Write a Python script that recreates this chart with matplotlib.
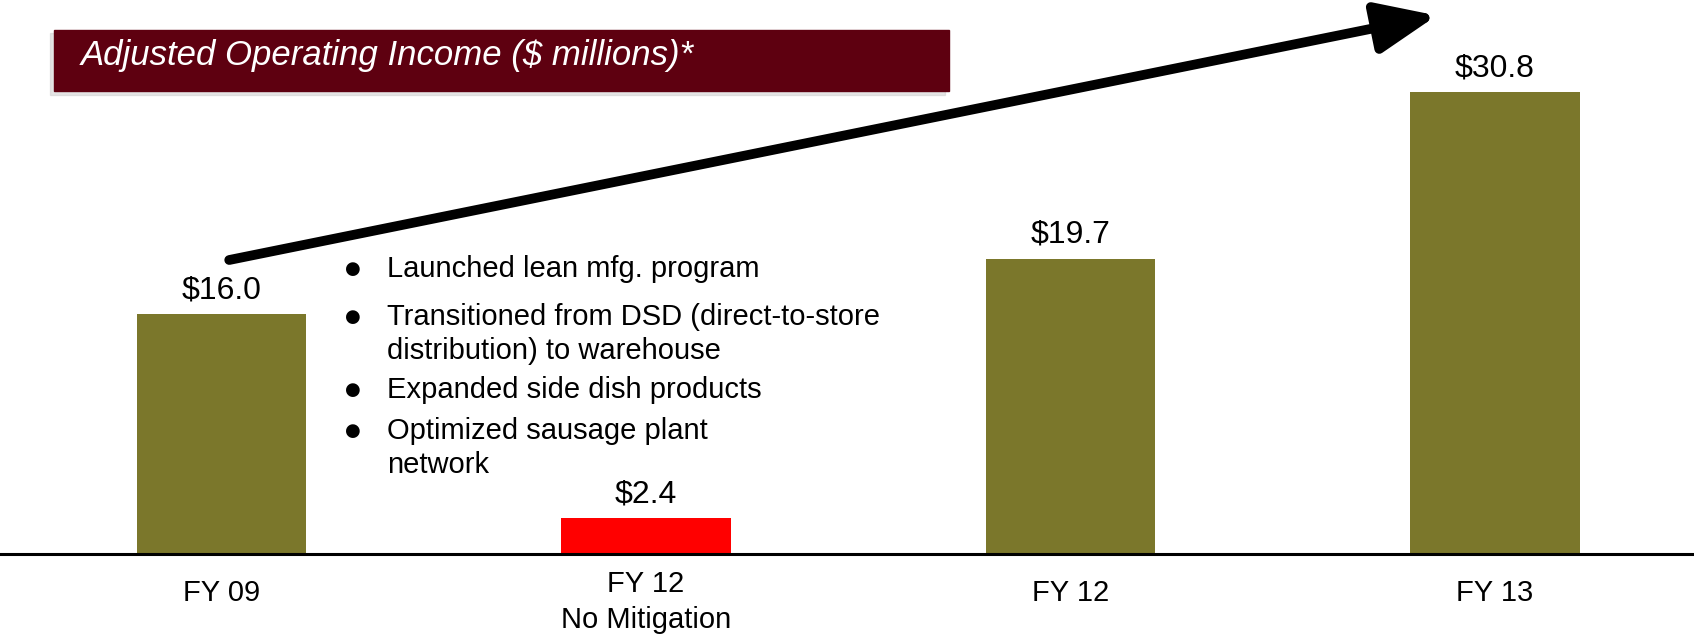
import matplotlib.pyplot as plt
from matplotlib.patches import Rectangle

categories = ["FY 09", "FY 12\nNo Mitigation", "FY 12", "FY 13"]
values = [16.0, 2.4, 19.7, 30.8]
bar_colors = ["#7b772b", "#ff0000", "#7b772b", "#7b772b"]
value_labels = ["$16.0", "$2.4", "$19.7", "$30.8"]
title = "Adjusted Operating Income ($ millions)*"
bullets = [
    "Launched lean mfg. program",
    "Transitioned from DSD (direct-to-store\ndistribution) to warehouse",
    "Expanded side dish products",
    "Optimized sausage plant\nnetwork",
]

W, H = 1694, 634
fig = plt.figure(figsize=(W / 100, H / 100), dpi=100)
fig.patch.set_facecolor("white")

sans = ["Liberation Sans", "DejaVu Sans"]

# axes: baseline at y=554px, 15px per unit
ax = fig.add_axes([0, 80 / H, 1, 554 / H])
x = list(range(len(categories)))
ax.bar(x, values, width=0.4, color=bar_colors, zorder=2)
ax.set_xlim(-0.522, 3.469)
ax.set_ylim(0, 554 / 15)
for s in ["top", "left", "right"]:
    ax.spines[s].set_visible(False)
ax.spines["bottom"].set_linewidth(2.2)
ax.set_yticks([])
ax.set_xticks([])

# value labels above bars
for xi, v, lab in zip(x, values, value_labels):
    ax.annotate(lab, (xi, v), xytext=(0, 17), textcoords="offset points",
                ha="center", va="center", fontsize=23, family=sans)

# category labels under axis
for xi, cat in zip(x, categories):
    if "\n" in cat:
        ax.text(xi, -3.2, cat, ha="center", va="center", fontsize=21,
                family=sans, linespacing=1.35, clip_on=False)
    else:
        ax.text(xi, -2.6, cat, ha="center", va="center", fontsize=21,
                family=sans, clip_on=False)

# growth arrow
ax.annotate("", xy=(2.863, 35.9), xytext=(0.018, 19.6),
            arrowprops=dict(arrowstyle="-|>,head_length=1.3,head_width=0.55",
                            lw=7, color="black", mutation_scale=28,
                            shrinkA=0, shrinkB=0),
            annotation_clip=False, zorder=5)

# title banner with faint shadow
fig.patches.append(Rectangle((50 / W, 1 - 95 / H), 895 / W, 62 / H,
                             transform=fig.transFigure, color="#cccccc",
                             alpha=0.5, zorder=0))
fig.patches.append(Rectangle((54 / W, 1 - 91 / H), 895 / W, 61 / H,
                             transform=fig.transFigure, color="#5e0010",
                             zorder=1))
fig.text(81 / W, 1 - 55 / H, title, color="white", fontsize=25,
         style="italic", family=sans, va="center", ha="left", zorder=3)

# bullet list
bullet_y = [269, 317, 390, 431]
for y, txt in zip(bullet_y, bullets):
    fig.text(353 / W, 1 - y / H, "\u25cf", fontsize=13, ha="center",
             va="center", family=["DejaVu Sans"])
    fig.text(387 / W, 1 - (y - 14) / H, txt, fontsize=21, ha="left",
             va="top", family=sans, linespacing=1.28)

fig.savefig("out.png", dpi=100)
